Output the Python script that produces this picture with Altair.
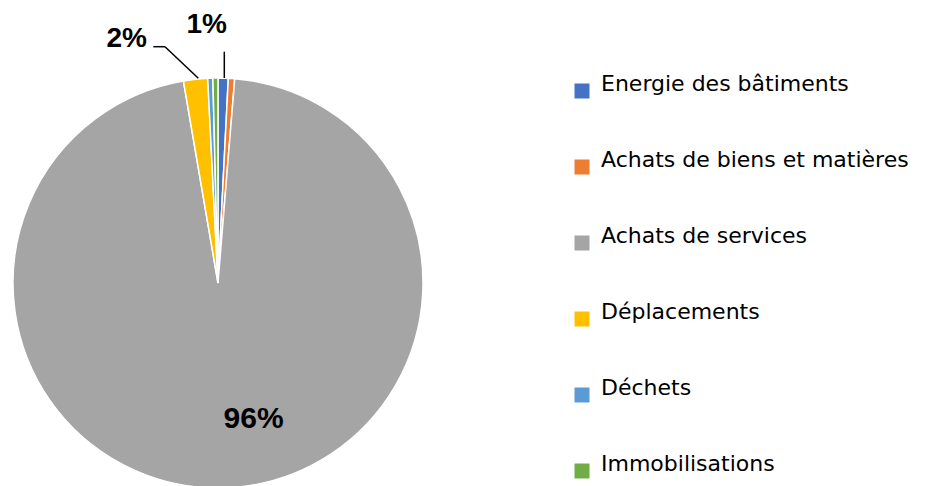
import altair as alt
import pandas as pd

categories = ["Energie des bâtiments", "Achats de biens et matières", "Achats de services",
              "Déplacements", "Déchets", "Immobilisations"]
values = [0.8, 0.5, 96.0, 1.9, 0.4, 0.4]
colors = ["#4472C4", "#ED7D31", "#A5A5A5", "#FFC000", "#5B9BD5", "#70AD47"]
labels = ["1%", "", "96%", "2%", "", ""]

df = pd.DataFrame({
    "cat": categories,
    "value": values,
    "order": list(range(len(categories))),
    "label": labels,
})

CX, CY, R = 210, 275, 205

base = alt.Chart(df)

pie = base.mark_arc(stroke="white", strokeWidth=1.5).encode(
    theta=alt.Theta("value:Q", stack=True),
    order=alt.Order("order:Q"),
    color=alt.Color(
        "cat:N",
        scale=alt.Scale(domain=categories, range=colors),
        sort=categories,
        legend=alt.Legend(
            title=None, orient="none", legendX=563, legendY=72, direction="vertical",
            symbolType="square", symbolSize=225, symbolStrokeWidth=0,
            labelFont="DejaVu Sans", labelFontSize=22, labelColor="#000000",
            labelBaseline="alphabetic",
            labelOffset=8, rowPadding=50, labelLimit=400, padding=0,
        ),
    ),
    x=alt.value(CX), y=alt.value(CY), radius=alt.value(R),
)

def lab(cat, radius, dx, dy, size):
    return base.transform_window(
        cum="sum(value)", sort=[alt.SortField("order")]
    ).transform_calculate(
        mid="datum.cum - datum.value / 2"
    ).transform_filter(
        alt.datum.cat == cat
    ).mark_text(
        font="Liberation Sans", fontWeight="bold", fontSize=size, color="black",
        align="center", baseline="alphabetic", dx=dx, dy=dy,
    ).encode(
        theta=alt.Theta("mid:Q", stack=None, scale=alt.Scale(domain=[0, 100])),
        text="label:N",
        x=alt.value(CX), y=alt.value(CY), radius=alt.value(radius),
    )

l96 = lab("Achats de services", 140, 29.4, 4.8, 30)
l1 = lab("Energie des bâtiments", 255, -17.7, 5.2, 28)
l2 = lab("Déplacements", 255, -63.3, 17.2, 28)

dummy = alt.Chart(pd.DataFrame({"k": [0]}))
rule1 = dummy.mark_rule(color="black", strokeWidth=1.5).encode(
    x=alt.value(216.3), x2=alt.value(216.3), y=alt.value(43.7), y2=alt.value(70))
rule2a = dummy.mark_rule(color="black", strokeWidth=1.5).encode(
    x=alt.value(145.3), x2=alt.value(157), y=alt.value(38.7), y2=alt.value(38.7))
rule2b = dummy.mark_rule(color="black", strokeWidth=1.5).encode(
    x=alt.value(157), x2=alt.value(190.3), y=alt.value(38.7), y2=alt.value(70.3))

chart = alt.layer(pie, l96, l1, l2, rule1, rule2a, rule2b).properties(
    width=919, height=478, padding=0,
    autosize=alt.AutoSizeParams(type="none"),
    background="white",
).configure_view(stroke=None)

chart.save("out.html", embed_options={"renderer": "svg", "actions": False})
